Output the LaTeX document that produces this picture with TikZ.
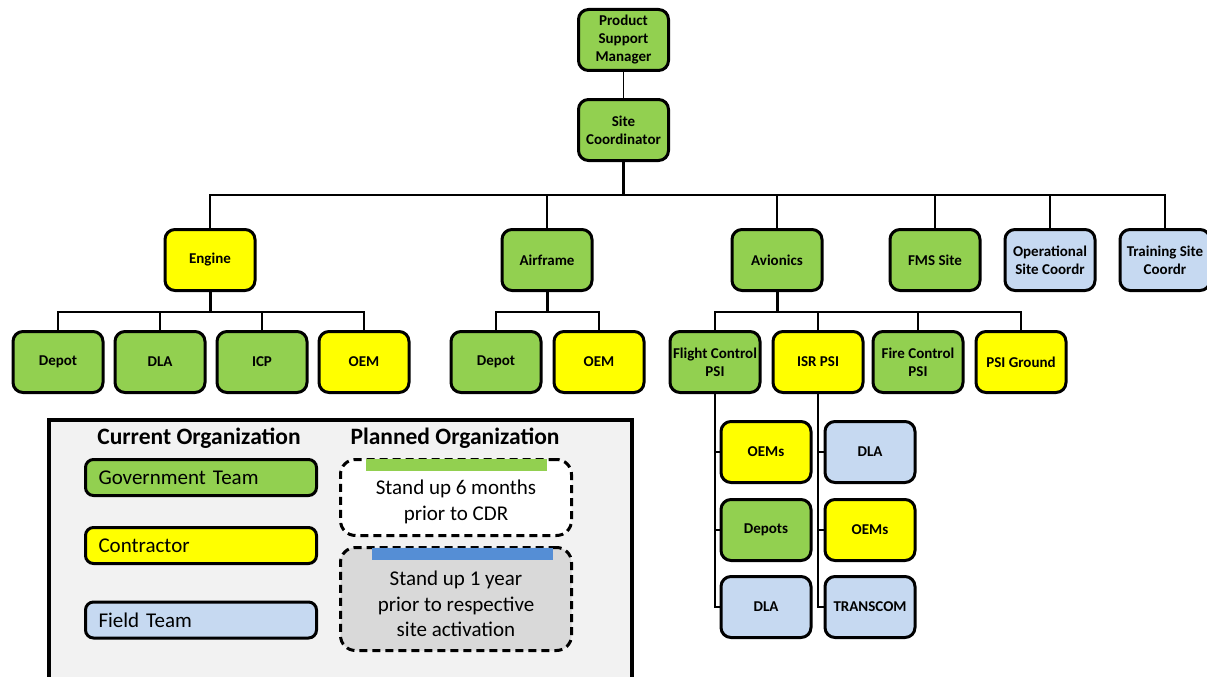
\documentclass[tikz,border=0pt]{standalone}
\usepackage{fontspec}
\setmainfont{Carlito}
\definecolor{govgreen}{HTML}{92D050}
\definecolor{conyellow}{HTML}{FFFF00}
\definecolor{fieldblue}{HTML}{C6D9F1}
\definecolor{legendgray}{HTML}{F2F2F2}
\definecolor{plangray}{HTML}{D9D9D9}
\definecolor{barblue}{HTML}{558ED5}
\tikzset{
	org/.style={draw,line width=3pt,rounded corners=10pt,minimum width=90pt,minimum height=61pt,
		inner sep=2pt,align=center,font=\fontsize{15}{18}\selectfont\bfseries},
	gov/.style={org,fill=govgreen},
	con/.style={org,fill=conyellow},
	fld/.style={org,fill=fieldblue},
	link/.style={line width=1.5pt},
	bus/.style={line width=2pt},
	trunk/.style={line width=3pt},
	hdr/.style={font=\fontsize{23.5}{28}\selectfont\bfseries},
	legitem/.style={draw,line width=3pt,rounded corners=8pt,minimum height=36pt,text width=205pt,
		inner xsep=13pt,align=left,font=\fontsize{21}{25}\selectfont},
	planbox/.style={draw,line width=3pt,dash pattern=on 8pt off 5pt,rounded corners=15pt,minimum width=231pt},
	planbar/.style={minimum width=181pt,minimum height=12pt,inner sep=0pt},
	plantext/.style={align=center,font=\fontsize{21}{25.5}\selectfont}
}
\begin{document}
\begin{tikzpicture}[x=1pt,y=-1pt]
	\useasboundingbox (0,0) rectangle (1207,677);
	\node[gov] (psm) at (623.5,40) {Product\\Support\\Manager};
	\node[gov] (sc) at (623.5,130) {Site\\Coordinator};
	\node[con] (engine) at (210,260) {Engine};
	\node[gov] (airframe) at (547,260) {Airframe};
	\node[gov] (avionics) at (777,260) {Avionics};
	\node[gov] (fms) at (935,260) {FMS Site};
	\node[fld] (opsite) at (1050,260) {Operational\\Site Coordr};
	\node[fld] (trainsite) at (1165,260) {Training Site\\Coordr};
	\node[gov] (engdepot) at (58,362) {Depot};
	\node[gov] (engdla) at (160,362) {DLA};
	\node[gov] (engicp) at (262,362) {ICP};
	\node[con] (engoem) at (364,362) {OEM};
	\node[gov] (afdepot) at (496,362) {Depot};
	\node[con] (afoem) at (599,362) {OEM};
	\node[gov] (fcpsi) at (715,362) {Flight Control\\PSI};
	\node[con] (isrpsi) at (818,362) {ISR PSI};
	\node[gov] (firepsi) at (918,362) {Fire Control\\PSI};
	\node[con] (psiground) at (1021,362) {PSI Ground};
	\node[con] (fcoems) at (766,452) {OEMs};
	\node[gov] (fcdepots) at (766,530) {Depots};
	\node[fld] (fcdla) at (766,607) {DLA};
	\node[fld] (isrdla) at (870,452) {DLA};
	\node[con] (isroems) at (870,530) {OEMs};
	\node[fld] (transcom) at (870,607) {TRANSCOM};
	\coordinate (topbus) at (623.5,195);
	\coordinate (engbus) at (210,312);
	\coordinate (afbus) at (547,312);
	\coordinate (avbus) at (777,312);
	\draw[link] (psm) -- (sc);
	\draw[trunk] (sc) -- (topbus);
	\foreach \n in {engine,airframe,avionics,fms,opsite,trainsite}
		\draw[bus] (topbus) -| (\n);
	\draw[trunk] (engine) -- (engbus);
	\foreach \n in {engdepot,engdla,engicp,engoem}
		\draw[link] (engbus) -| (\n);
	\draw[trunk] (airframe) -- (afbus);
	\foreach \n in {afdepot,afoem}
		\draw[link] (afbus) -| (\n);
	\draw[trunk] (avionics) -- (avbus);
	\foreach \n in {fcpsi,isrpsi,firepsi,psiground}
		\draw[link] (avbus) -| (\n);
	\foreach \n in {fcoems,fcdepots,fcdla}
		\draw[link] (fcpsi) |- (\n);
	\foreach \n in {isrdla,isroems,transcom}
		\draw[link] (isrpsi) |- (\n);
	\draw[line width=3.5pt,fill=legendgray] (49,420) rectangle (632,700);
	\node[hdr] (curhdr) at (199,438) {Current Organization};
	\node[hdr] (planhdr) at (455,438) {Planned Organization};
	\node[legitem,fill=govgreen] (govt) at (201,477.5) {Government Team};
	\node[legitem,fill=conyellow] (contr) at (201,545.5) {Contractor};
	\node[legitem,fill=fieldblue] (field) at (201,620) {Field Team};
	\node[planbox,fill=white,minimum height=76pt] (plan1) at (456,497.5) {};
	\node[planbox,fill=plangray,minimum height=103pt] (plan2) at (456,599) {};
	\node[planbar,fill=govgreen] (bar1) at (456.5,465) {};
	\node[planbar,fill=barblue] (bar2) at (462,554) {};
	\node[plantext] (txt1) at (456,502) {Stand up 6 months\\prior to CDR};
	\node[plantext] (txt2) at (456,604) {Stand up 1 year\\prior to respective\\site activation};
\end{tikzpicture}
\end{document}
